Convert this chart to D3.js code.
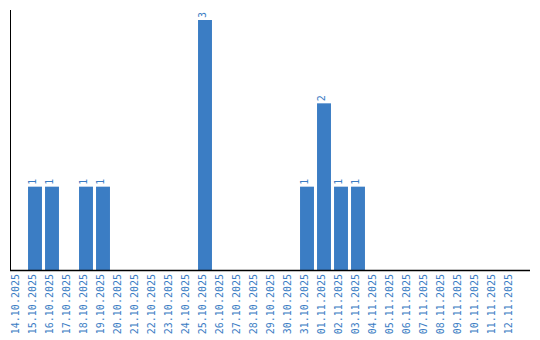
<!DOCTYPE html>
<html><head><meta charset="utf-8">
<script src="https://cdn.jsdelivr.net/npm/d3@7"></script>
<style>html,body{margin:0;padding:0;background:#fff;}</style>
</head><body>
<svg id="c" width="540" height="340"></svg>
<script>
const categories = ["14.10.2025","15.10.2025","16.10.2025","17.10.2025","18.10.2025","19.10.2025","20.10.2025","21.10.2025","22.10.2025","23.10.2025","24.10.2025","25.10.2025","26.10.2025","27.10.2025","28.10.2025","29.10.2025","30.10.2025","31.10.2025","01.11.2025","02.11.2025","03.11.2025","04.11.2025","05.11.2025","06.11.2025","07.11.2025","08.11.2025","09.11.2025","10.11.2025","11.11.2025","12.11.2025"];
const values = [0,1,1,0,1,1,0,0,0,0,0,3,0,0,0,0,0,1,2,1,1,0,0,0,0,0,0,0,0,0];

const color = "#3b7dc4";
const font = "'DejaVu Sans Mono', 'Liberation Mono', monospace";
const svg = d3.select("#c");
const x = d3.scaleBand().domain(categories).range([9.5, 519.5]).paddingInner(0.18).paddingOuter(0.09);
const y = d3.scaleLinear().domain([0, 3.12]).range([270, 10]);

const data = categories.map((c,i) => ({c, v: values[i]}));
svg.selectAll("rect.bar").data(data.filter(d => d.v > 0)).enter().append("rect")
  .attr("class","bar")
  .attr("x", d => x(d.c))
  .attr("width", x.bandwidth())
  .attr("y", d => y(d.v))
  .attr("height", d => y(0) - y(d.v))
  .attr("fill", color);

svg.selectAll("text.val").data(data.filter(d => d.v > 0)).enter().append("text")
  .attr("class","val")
  .attr("transform", d => `translate(${x(d.c) + x.bandwidth()/2 + 0.5},${y(d.v) - 2}) rotate(-90)`)
  .attr("text-anchor","start")
  .attr("font-family", font)
  .attr("font-size", 10)
  .attr("fill", color)
  .text(d => d.v);

// x axis
const xAxis = svg.append("g").attr("transform","translate(0,270)")
  .call(d3.axisBottom(x).tickSize(0).tickPadding(0));
xAxis.select(".domain").remove();
xAxis.selectAll("text")
  .attr("transform","rotate(-90)")
  .attr("text-anchor","end")
  .attr("x", -4)
  .attr("y", 0)
  .attr("dy","0.05em")
  .attr("font-family", font)
  .attr("font-size", 10)
  .attr("fill", color);

svg.append("line").attr("x1",10).attr("x2",530).attr("y1",270.5).attr("y2",270.5).attr("stroke","#000").attr("stroke-width",1.5);
svg.append("line").attr("x1",10.5).attr("x2",10.5).attr("y1",10).attr("y2",271).attr("stroke","#000").attr("stroke-width",1);
</script>
</body></html>
